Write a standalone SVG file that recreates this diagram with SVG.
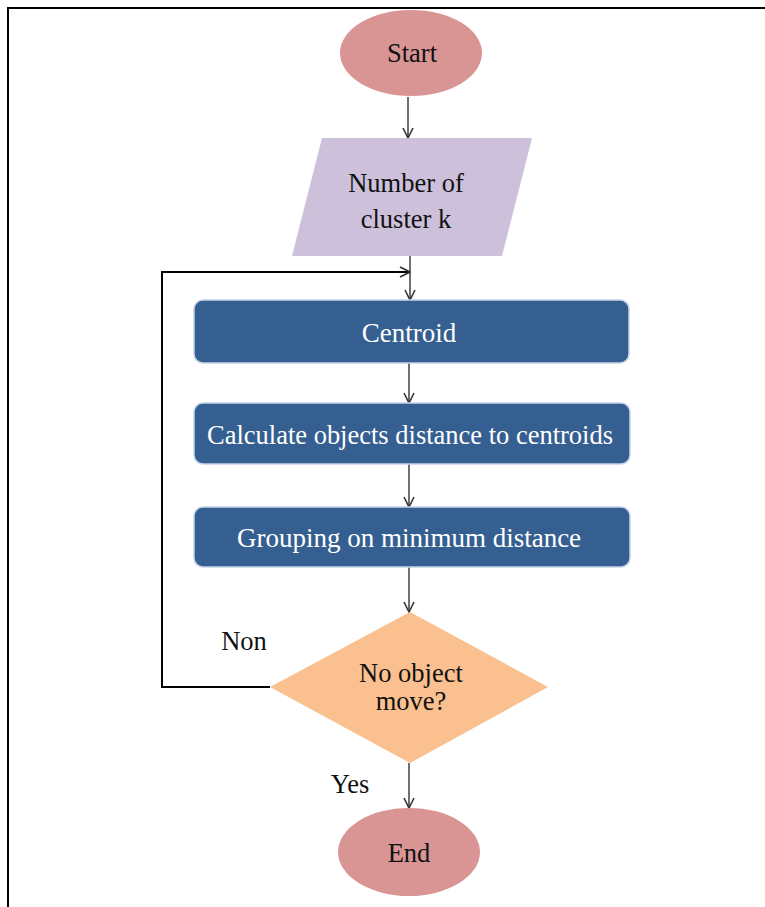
<svg xmlns="http://www.w3.org/2000/svg" width="765" height="907" viewBox="0 0 765 907">
<defs>
<marker id="arr" viewBox="0 0 12 12" refX="11" refY="6" markerWidth="12" markerHeight="12" markerUnits="userSpaceOnUse" orient="auto">
<path d="M1,1 L11,6 L1,11" fill="none" stroke="#333" stroke-width="1.6"/>
</marker>
</defs>
<style>
.lbl{font-family:"Liberation Serif","Times New Roman",serif;font-size:26.5px;fill:#111;text-anchor:middle}
.wl{font-family:"Liberation Serif","Times New Roman",serif;font-size:27px;fill:#fff;text-anchor:middle}
.box{fill:#355f91;stroke:#c6d3e6;stroke-width:1.5}
.conn{fill:none;stroke:#707070;stroke-width:2}
.fb{fill:none;stroke:#000;stroke-width:2}
</style>
<rect x="0" y="0" width="765" height="907" fill="#fff"/>
<path d="M8,907 V8 H765" fill="none" stroke="#000" stroke-width="2"/>
<g id="connectors">
<line class="conn" x1="408" y1="97" x2="408" y2="138" marker-end="url(#arr)"/>
<line class="conn" x1="410" y1="256" x2="410" y2="300" marker-end="url(#arr)"/>
<polyline class="fb" points="270,687 162,687 162,272 410,272" marker-end="url(#arr)"/>
<line class="conn" x1="409" y1="363" x2="409" y2="403" marker-end="url(#arr)"/>
<line class="conn" x1="409" y1="464" x2="409" y2="507" marker-end="url(#arr)"/>
<line class="conn" x1="409" y1="567" x2="409" y2="612" marker-end="url(#arr)"/>
<line class="conn" x1="409" y1="763" x2="409" y2="808" marker-end="url(#arr)"/>
<text class="lbl" x="244" y="650">Non</text>
<text class="lbl" x="350" y="793">Yes</text>
</g>
<g id="start">
<ellipse cx="411" cy="53" rx="71" ry="43" fill="#d99594"/>
<text class="lbl" x="412" y="62">Start</text>
</g>
<g id="input">
<polygon points="322,138 532,138 502,256 292,256" fill="#ccc0da"/>
<text class="lbl" x="406" y="192">Number of</text>
<text class="lbl" x="406" y="228">cluster k</text>
</g>
<g id="centroid">
<rect class="box" x="194" y="300" width="435" height="63" rx="9"/>
<text class="wl" x="409" y="342">Centroid</text>
</g>
<g id="calculate">
<rect class="box" x="194" y="403" width="436" height="61" rx="9"/>
<text class="wl" x="410" y="444" textLength="406" lengthAdjust="spacingAndGlyphs">Calculate objects distance to centroids</text>
</g>
<g id="grouping">
<rect class="box" x="194" y="507" width="436" height="60" rx="9"/>
<text class="wl" x="409" y="547">Grouping on minimum distance</text>
</g>
<g id="decision">
<polygon points="410,612 548,687 410,763 270,687" fill="#fac08f"/>
<text class="lbl" x="411" y="682">No object</text>
<text class="lbl" x="411" y="710">move?</text>
</g>
<g id="end">
<ellipse cx="409" cy="852" rx="71" ry="44" fill="#d99594"/>
<text class="lbl" x="409" y="862">End</text>
</g>
</svg>
